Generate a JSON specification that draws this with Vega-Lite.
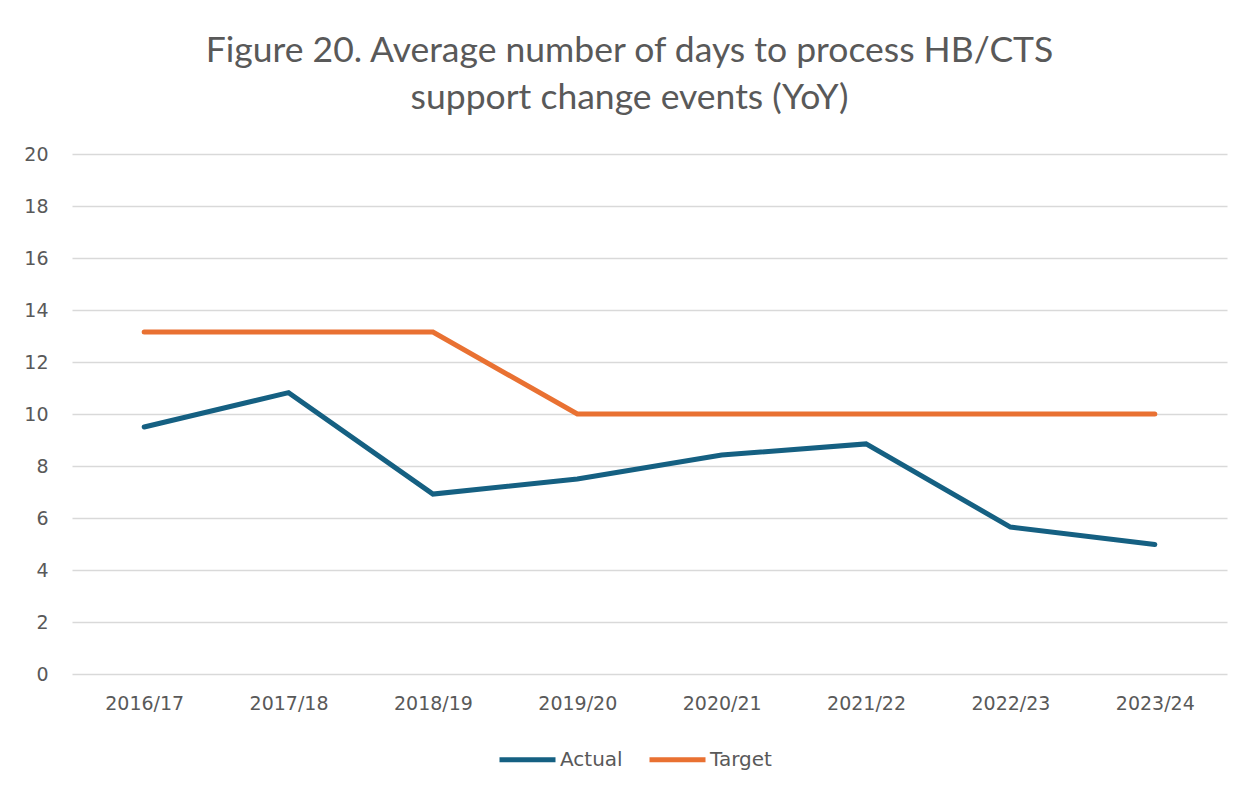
{
  "$schema": "https://vega.github.io/schema/vega-lite/v6.json",
  "autosize": {"type": "none"},
  "width": 1155,
  "height": 520,
  "padding": {"left": 72, "top": 154, "right": 26, "bottom": 116},
  "background": "white",
  "config": {"view": {"stroke": null}},
  "title": {
    "text": ["Figure 20. Average number of days to process HB/CTS", "support change events (YoY)"],
    "anchor": "middle",
    "font": "Lato",
    "fontSize": 35.5,
    "fontWeight": "normal",
    "color": "#595959",
    "lineHeight": 47,
    "offset": 29,
    "dx": -20,
    "frame": "group"
  },
  "data": {
    "values": [
      {"year": "2016/17", "series": "Actual", "days": 9.5},
      {"year": "2017/18", "series": "Actual", "days": 10.82},
      {"year": "2018/19", "series": "Actual", "days": 6.92},
      {"year": "2019/20", "series": "Actual", "days": 7.5},
      {"year": "2020/21", "series": "Actual", "days": 8.42},
      {"year": "2021/22", "series": "Actual", "days": 8.85},
      {"year": "2022/23", "series": "Actual", "days": 5.65},
      {"year": "2023/24", "series": "Actual", "days": 4.98},
      {"year": "2016/17", "series": "Target", "days": 13.15},
      {"year": "2017/18", "series": "Target", "days": 13.15},
      {"year": "2018/19", "series": "Target", "days": 13.15},
      {"year": "2019/20", "series": "Target", "days": 10},
      {"year": "2020/21", "series": "Target", "days": 10},
      {"year": "2021/22", "series": "Target", "days": 10},
      {"year": "2022/23", "series": "Target", "days": 10},
      {"year": "2023/24", "series": "Target", "days": 10}
    ]
  },
  "mark": {"type": "line", "strokeWidth": 5, "strokeCap": "round", "strokeJoin": "miter"},
  "encoding": {
    "x": {
      "field": "year",
      "type": "ordinal",
      "scale": {"type": "point", "padding": 0.5},
      "axis": {
        "title": null,
        "labelAngle": 0,
        "labelFont": "DejaVu Sans",
        "labelFontSize": 19,
        "labelColor": "#595959",
        "labelPadding": 20,
        "ticks": false,
        "domain": false,
        "grid": false
      }
    },
    "y": {
      "field": "days",
      "type": "quantitative",
      "scale": {"domain": [0, 20], "nice": false},
      "axis": {
        "title": null,
        "values": [0, 2, 4, 6, 8, 10, 12, 14, 16, 18, 20],
        "labelFont": "DejaVu Sans",
        "labelFontSize": 19,
        "labelColor": "#595959",
        "labelPadding": 24,
        "ticks": false,
        "domain": false,
        "grid": true,
        "gridColor": "#d9d9d9",
        "gridWidth": 1.5
      }
    },
    "color": {
      "field": "series",
      "type": "nominal",
      "scale": {"domain": ["Actual", "Target"], "range": ["#156082", "#e97132"]},
      "legend": {
        "title": null,
        "orient": "none",
        "direction": "horizontal",
        "legendX": 425,
        "legendY": 575,
        "symbolType": "stroke",
        "symbolSize": 3136,
        "symbolStrokeWidth": 5,
        "labelFont": "DejaVu Sans",
        "labelFontSize": 20,
        "labelColor": "#595959",
        "labelOffset": 2,
        "columnPadding": 16
      }
    }
  }
}
